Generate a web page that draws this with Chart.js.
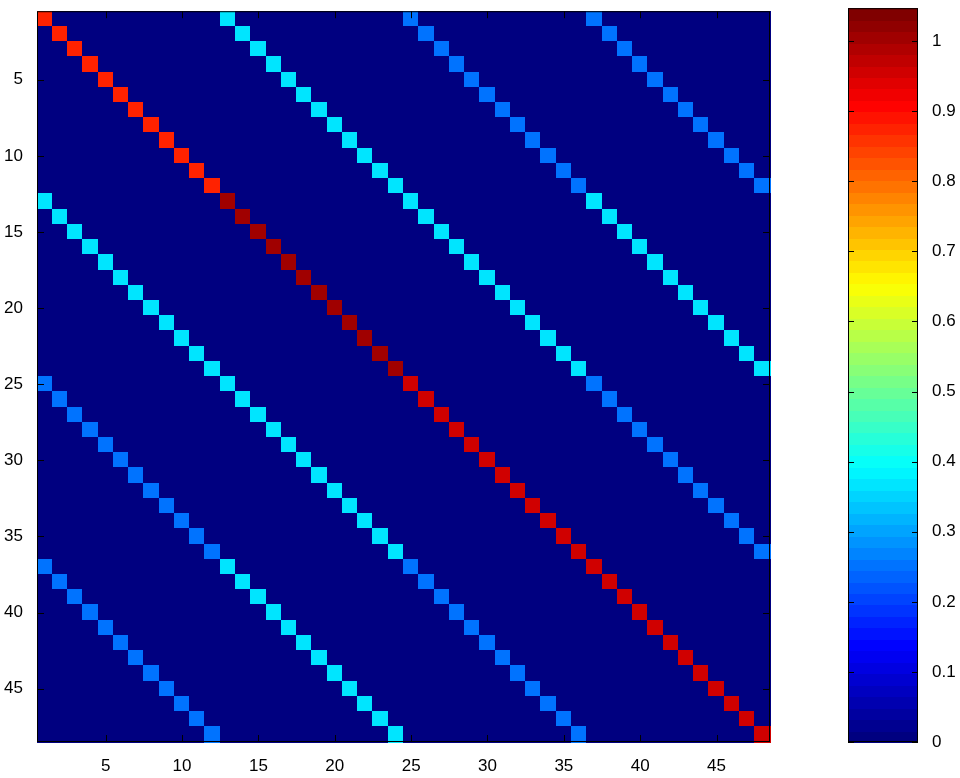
<!DOCTYPE html>
<html><head><meta charset="utf-8">
<script src="https://cdn.jsdelivr.net/npm/chart.js@4"></script>
<style>body{margin:0;background:#fff;overflow:hidden}</style>
</head><body>
<div style="position:absolute;left:0;top:-5px;width:800px;height:783px"><canvas id="c1"></canvas></div>
<div style="position:absolute;left:800px;top:-8px;width:160px;height:786px"><canvas id="c2"></canvas></div>
<script>
const N = 48, BLOCK = 12;
const tickLabels = [5,10,15,20,25,30,35,40,45];
const cbTicks = [0,0.1,0.2,0.3,0.4,0.5,0.6,0.7,0.8,0.9,1];
const cMax = 1.047;
// diagonal values of each 12x12 block on the main diagonal
const blockDiag = [0.88, 1.00, 0.95, 0.95];
// coupling value along the diagonal of off-diagonal blocks (block i, block j)
const blockCoupling = [
  [0,    0.37, 0.26, 0.26],
  [0.37, 0,    0.37, 0.37],
  [0.26, 0.37, 0,    0.26],
  [0.26, 0.37, 0.26, 0]
];
function value(r, c) {
  const br = Math.floor((r-1)/BLOCK), bc = Math.floor((c-1)/BLOCK);
  if ((r-1)%BLOCK !== (c-1)%BLOCK) return 0;
  return br === bc ? blockDiag[br] : blockCoupling[br][bc];
}
const cells = [];
for (let r=1;r<=N;r++) for (let c=1;c<=N;c++) cells.push({x:c,y:r,v:value(r,c)});

function jet(t){
  t = Math.max(0,Math.min(1,t));
  t = Math.min(63, Math.floor(t*64))/63;
  const cl = v=>Math.round(255*Math.max(0,Math.min(1,v)));
  return `rgb(${cl(1.5-Math.abs(4*t-3))},${cl(1.5-Math.abs(4*t-2))},${cl(1.5-Math.abs(4*t-1))})`;
}
const font = {family:'Liberation Sans, Arial', size:17};
const frame = {
  id:'frame',
  afterDraw(ch){
    const {ctx, chartArea:a} = ch;
    ctx.save(); ctx.strokeStyle='#000'; ctx.lineWidth=1;
    ctx.strokeRect(a.left+0.5,a.top+0.5,a.right-a.left-1,a.bottom-a.top-1);
    ctx.restore();
  }
};
const heat = {
  id:'heat',
  beforeDatasetsDraw(ch){
    const {ctx, scales:{x,y}} = ch;
    ctx.save();
    for (const p of ch.data.datasets[0].data){
      const x0=x.getPixelForValue(p.x-0.5), x1=x.getPixelForValue(p.x+0.5);
      const y0=y.getPixelForValue(p.y-0.5), y1=y.getPixelForValue(p.y+0.5);
      ctx.fillStyle = jet(p.v/cMax);
      ctx.fillRect(Math.floor(x0),Math.floor(Math.min(y0,y1)),Math.ceil(x1-x0)+1,Math.ceil(Math.abs(y1-y0))+1);
    }
    const a=ch.chartArea;
    ctx.strokeStyle='#000';ctx.lineWidth=1;
    for (const t of tickLabels){
      const px=Math.round(x.getPixelForValue(t))+0.5, py=Math.round(y.getPixelForValue(t))+0.5;
      ctx.beginPath();ctx.moveTo(px,a.bottom);ctx.lineTo(px,a.bottom-7);ctx.moveTo(px,a.top);ctx.lineTo(px,a.top+7);
      ctx.moveTo(a.left,py);ctx.lineTo(a.left+7,py);ctx.moveTo(a.right,py);ctx.lineTo(a.right-7,py);ctx.stroke();
    }
    ctx.restore();
  }
};
new Chart(document.getElementById('c1'),{
  type:'scatter',
  data:{datasets:[{data:cells,pointRadius:0,pointHoverRadius:0}]},
  options:{animation:false,responsive:true,maintainAspectRatio:false,
    layout:{padding:{top:0,right:30,left:0,bottom:0}},
    plugins:{legend:{display:false},tooltip:{enabled:false}},
    scales:{
      x:{type:'linear',min:0.5,max:48.5,afterBuildTicks:s=>{s.ticks=tickLabels.map(v=>({value:v}))},
         grid:{display:false},border:{display:false},ticks:{color:'#000',font,padding:6,maxRotation:0},
         afterFit:s=>{s.height=36}},
      y:{type:'linear',reverse:true,min:0.5,max:48.5,afterBuildTicks:s=>{s.ticks=tickLabels.map(v=>({value:v}))},
         grid:{display:false},border:{display:false},ticks:{color:'#000',font,padding:6},
         afterFit:s=>{s.width=37}}
    }},
  plugins:[heat,frame]
});
const cbLevels = Array.from({length:64},(_,i)=>i);
const cbar = {
  id:'cbar',
  afterDraw(ch){
    const {ctx, chartArea:a, scales:{y}} = ch;
    ctx.save();
    for (const i of cbLevels){
      const y0=y.getPixelForValue(i/64*cMax), y1=y.getPixelForValue((i+1)/64*cMax);
      ctx.fillStyle=jet((i+0.5)/64);
      ctx.fillRect(a.left,Math.floor(y1),a.right-a.left,Math.ceil(y0-y1)+1);
    }
    ctx.strokeStyle='#000';ctx.lineWidth=1;
    for (const t of cbTicks){
      const py=Math.round(y.getPixelForValue(t))+0.5;
      ctx.beginPath();ctx.moveTo(a.left,py);ctx.lineTo(a.left+6,py);ctx.moveTo(a.right,py);ctx.lineTo(a.right-6,py);ctx.stroke();
    }
    ctx.strokeRect(a.left+0.5,a.top+0.5,a.right-a.left-1,a.bottom-a.top-1);
    ctx.restore();
  }
};
new Chart(document.getElementById('c2'),{
  type:'scatter',
  data:{datasets:[{data:[{x:0.5,y:0}],pointRadius:0}]},
  options:{animation:false,responsive:true,maintainAspectRatio:false,
    layout:{padding:{top:0,left:48,right:0,bottom:36}},
    plugins:{legend:{display:false},tooltip:{enabled:false}},
    scales:{
      x:{type:'linear',display:false,min:0,max:1},
      y:{type:'linear',position:'right',min:0,max:cMax,afterBuildTicks:s=>{s.ticks=cbTicks.map(v=>({value:v}))},
         grid:{display:false},border:{display:false},
         ticks:{color:'#000',font,padding:6,callback:v=>String(v)},
         afterFit:s=>{s.width=42}}
    }},
  plugins:[cbar]
});
</script></body></html>
